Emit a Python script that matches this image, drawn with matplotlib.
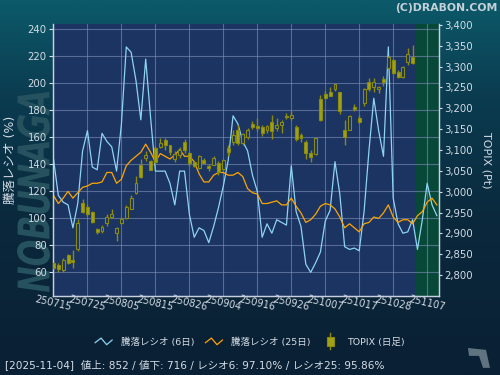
import numpy as np
import matplotlib
matplotlib.use("Agg")
import matplotlib.pyplot as plt
from matplotlib.colors import LinearSegmentedColormap
from matplotlib.legend_handler import HandlerBase
from matplotlib.lines import Line2D
from matplotlib.patches import Rectangle, Polygon, PathPatch
from matplotlib.textpath import TextPath
from matplotlib.font_manager import FontProperties
from matplotlib.transforms import Affine2D, IdentityTransform

plt.rcParams['font.family'] = ['DejaVu Sans', 'Noto Sans CJK JP']

# x tick labels (yymmdd), one every 7 trading days starting 2025-07-15
tick_labels = ["250715", "250725", "250805", "250815", "250826", "250904",
               "250916", "250926", "251007", "251017", "251028", "251107"]
tick_pos = [0, 7, 14, 21, 28, 35, 42, 49, 56, 63, 70, 77]

# advance/decline ratio, 6 day (%)
ratio6 = [144, 117, 112, 110, 93, 111, 150, 165, 138, 136,
          163, 157, 153, 135, 170, 227, 223, 202, 173, 218,
          175, 135, 135, 135, 126, 110, 135, 135, 103, 86,
          93, 91, 82, 94, 108, 124, 143, 176, 170, 157,
          150, 132, 120, 86, 96, 89, 99, 97, 95, 139,
          105, 94, 66, 60, 67, 75, 98, 106, 142, 118,
          79, 77, 78, 76, 105, 150, 189, 165, 146, 227,
          115, 96, 89, 90, 99, 77, 99, 126, 110, 102]

# advance/decline ratio, 25 day (%)
ratio25 = [117, 111, 115, 120, 115, 119, 123, 124, 126, 126,
           127, 134, 134, 126, 129, 139, 143, 146, 149, 155,
           149, 142, 148, 146, 144, 147, 151, 146, 146, 142,
           133, 127, 127, 132, 134, 134, 132, 132, 134, 131,
           122, 119, 118, 111, 111, 112, 113, 110, 110, 115,
           109, 104, 97, 99, 103, 109, 111, 110, 107, 101,
           93, 96, 93, 90, 96, 97, 101, 100, 104, 110,
           101, 97, 99, 99, 96, 102, 105, 112, 115, 110]

# TOPIX daily candles 2025-07-15 .. 2025-11-04
topix_open = [2830, 2824, 2813, 2848, 2836, 2862, 2974, 2964, 2952, 2910,
              2905, 2924, 2940, 2900, 2926, 2936, 2959, 2998, 3063, 3081,
              3073, 3105, 3107, 3125, 3111, 3079, 3089, 3119, 3092, 3071,
              3057, 3077, 3061, 3065, 3069, 3055, 3105, 3119, 3149, 3117,
              3131, 3163, 3157, 3155, 3149, 3166, 3153, 3161, 3182, 3177,
              3155, 3135, 3120, 3092, 3090, 3222, 3235, 3239, 3246, 3238,
              3149, 3149, 3203, 3177, 3213, 3262, 3250, 3245, 3269, 3297,
              3316, 3288, 3275, 3312, 3324]
topix_high = [2836, 2828, 2840, 2850, 2860, 2934, 2983, 2970, 2954, 2912,
              2920, 2946, 2959, 2916, 2940, 2967, 2991, 3038, 3079, 3097,
              3077, 3109, 3128, 3129, 3112, 3097, 3108, 3126, 3096, 3073,
              3089, 3081, 3066, 3085, 3073, 3079, 3111, 3149, 3160, 3141,
              3153, 3169, 3176, 3160, 3161, 3183, 3177, 3171, 3188, 3194,
              3160, 3141, 3124, 3100, 3128, 3232, 3242, 3251, 3257, 3238,
              3173, 3183, 3211, 3184, 3248, 3272, 3272, 3254, 3278, 3326,
              3318, 3292, 3302, 3345, 3352]
topix_low = [2814, 2808, 2808, 2826, 2818, 2858, 2948, 2942, 2926, 2898,
             2902, 2918, 2936, 2882, 2922, 2934, 2958, 2994, 3034, 3073,
             3052, 3066, 3104, 3101, 3088, 3072, 3081, 3092, 3062, 3059,
             3055, 3068, 3050, 3063, 3040, 3052, 3086, 3113, 3113, 3113,
             3127, 3150, 3146, 3133, 3140, 3127, 3146, 3141, 3174, 3173,
             3122, 3119, 3079, 3072, 3089, 3170, 3222, 3229, 3241, 3186,
             3111, 3148, 3193, 3164, 3206, 3241, 3238, 3237, 3253, 3294,
             3281, 3273, 3273, 3304, 3307]
topix_close = [2818, 2814, 2836, 2829, 2832, 2924, 2951, 2946, 2928, 2904,
               2916, 2940, 2946, 2912, 2934, 2964, 2986, 3022, 3036, 3089,
               3053, 3071, 3117, 3113, 3095, 3091, 3101, 3101, 3068, 3061,
               3085, 3069, 3057, 3081, 3047, 3077, 3095, 3137, 3117, 3139,
               3149, 3155, 3153, 3141, 3157, 3145, 3161, 3167, 3179, 3185,
               3127, 3129, 3092, 3083, 3128, 3171, 3225, 3230, 3257, 3193,
               3132, 3182, 3199, 3166, 3246, 3245, 3264, 3251, 3264, 3323,
               3285, 3275, 3300, 3331, 3308]

info_text = "[2025-11-04]  値上: 852 / 値下: 716 / レシオ6: 97.10% / レシオ25: 95.86%"

TXT = '#d4dce6'
NAVY = '#1b3462'
OLIVE = '#a2a218'
OLIVE_EDGE = '#8a8a0c'


class ZigzagHandler(HandlerBase):
    def create_artists(self, legend, orig, xd, yd, w, h, fontsize, trans):
        xs = np.array([0.0, 0.35, 0.68, 1.0]) * w - xd
        ys = np.array([0.3, 1.0, 0.0, 0.7]) * h - yd
        return [Line2D(xs, ys, color=orig.get_color(), lw=orig.get_linewidth(),
                       transform=trans)]


class CandleHandler(HandlerBase):
    def create_artists(self, legend, orig, xd, yd, w, h, fontsize, trans):
        xc = w / 2 - xd
        yc = h / 2 - yd
        wick = Line2D([xc, xc], [yc - 1.2 * h, yc + 1.2 * h], color=OLIVE_EDGE,
                      lw=1.0, transform=trans)
        body = Rectangle((xc - 0.2 * w, yc - 0.66 * h), 0.4 * w, 1.32 * h,
                         facecolor=OLIVE, edgecolor=OLIVE_EDGE, lw=0.8,
                         transform=trans)
        return [wick, body]


fig = plt.figure(figsize=(5, 3.75), dpi=100)

# background gradient
bg = fig.add_axes([0, 0, 1, 1], zorder=-10)
cmap = LinearSegmentedColormap.from_list(
    'bg', [(0.0, '#0c5a6a'), (0.25, '#0b3c50'), (0.6, '#0a283c'), (1.0, '#0a2034')])
bg.imshow(np.linspace(0, 1, 256).reshape(-1, 1), aspect='auto', cmap=cmap,
          extent=[0, 1, 0, 1])
bg.set_axis_off()

# decorative logo drawn as a shape behind the left axis
logo = TextPath((0, 0), "NOBUNAGA", size=30,
                prop=FontProperties(family='DejaVu Sans', weight='bold', style='italic'))
ext = logo.get_extents()
logo_tr = (Affine2D().translate(-ext.x0, -ext.y0)
           .scale(200 / ext.width, 33 / ext.height)
           .rotate_deg(90).translate(50, 83))
fig.patches.append(PathPatch(logo_tr.transform_path(logo), transform=IdentityTransform(),
                             facecolor='#26525f', edgecolor='none', zorder=-5))

ax = fig.add_axes([0.106, 0.2107, 0.7726, 0.7253])
ax.set_facecolor(NAVY)
ax2 = ax.twinx()

x_line = np.arange(len(ratio6))
x_c = np.arange(len(topix_open))

ax.axvspan(len(topix_open) - 0.5, 79.5, color='#084838', zorder=0.3, lw=0)
ax.set_axisbelow(True)
ax.grid(True, color='#8090b8', lw=0.8, alpha=0.6)

l6, = ax.plot(x_line, ratio6, color='#8fd3f2', lw=0.9, zorder=3)
l25, = ax.plot(x_line, ratio25, color='#ffa500', lw=0.9, zorder=3)

o = np.array(topix_open)
c = np.array(topix_close)
down = c < o
ax2.vlines(x_c, topix_low, topix_high, color=OLIVE_EDGE, lw=1.0, zorder=2)
ax2.bar(x_c, np.maximum(np.abs(c - o), 1.5), bottom=np.minimum(o, c), width=0.6,
        color=[OLIVE if d else NAVY for d in down], edgecolor=OLIVE_EDGE,
        lw=0.8, zorder=3)

ax.set_xlim(-0.1, 79.5)
ax.set_ylim(42.5, 244)
ax2.set_ylim(2750, 3402)
ax.set_yticks(np.arange(60, 241, 20))
ax2.set_yticks(np.arange(2800, 3401, 50))
ax2.set_yticklabels([f"{v:,}" for v in range(2800, 3401, 50)])

ax.set_xticks(tick_pos)
ax.set_xticklabels(tick_labels)
ax.tick_params(axis='x', length=0, pad=5.5, labelsize=7, colors=TXT)
for lbl in ax.get_xticklabels():
    lbl.set_rotation(-13)
    lbl.set_rotation_mode('anchor')
    lbl.set_va('center')
    lbl.set_ha('center')

ax.tick_params(axis='y', length=3, pad=1.5, labelsize=7.3, colors=TXT, width=0.8)
ax2.tick_params(axis='y', length=2.5, pad=0.8, labelsize=7.3, colors=TXT, width=0.8)

for a in (ax, ax2):
    a.spines['top'].set_visible(False)
    for s in ('left', 'right', 'bottom'):
        a.spines[s].set_color('#c8d0e0')
        a.spines[s].set_linewidth(0.9)

ax.set_ylabel("騰落レシオ (%)", color=TXT, fontsize=9, labelpad=4)
ax.yaxis.set_label_coords(-0.093, 0.5)
ax2.set_ylabel("TOPIX (Pt)", color=TXT, fontsize=8, rotation=-90, va='center')
ax2.yaxis.set_label_coords(1.121, 0.5)

candle_proxy = Rectangle((0, 0), 1, 1, facecolor=OLIVE)
fig.legend([l6, l25, candle_proxy],
           ["騰落レシオ (6日)", "騰落レシオ (25日)", "TOPIX (日足)"],
           handler_map={l6: ZigzagHandler(), l25: ZigzagHandler(),
                        candle_proxy: CandleHandler()},
           loc='center', bbox_to_anchor=(0.5, 0.088), ncol=3, frameon=False,
           fontsize=6.8, labelcolor=TXT, handlelength=1.8, handletextpad=0.9,
           columnspacing=1.2)

fig.text(0.01, 0.027, info_text, color=TXT, fontsize=7.6, ha='left', va='center')
fig.text(0.994, 0.979, "(C)DRABON.COM", color='#c4d0d8', fontsize=7.8,
         fontweight='bold', ha='right', va='center')

# little corner icon
fig.patches.append(Polygon([(0.936, 0.072), (0.972, 0.067), (0.98, 0.019),
                            (0.966, 0.019), (0.958, 0.051), (0.938, 0.051)],
                           closed=True, transform=fig.transFigure,
                           facecolor='#5f7480', edgecolor='none'))

fig.savefig("out.png", dpi=100)
